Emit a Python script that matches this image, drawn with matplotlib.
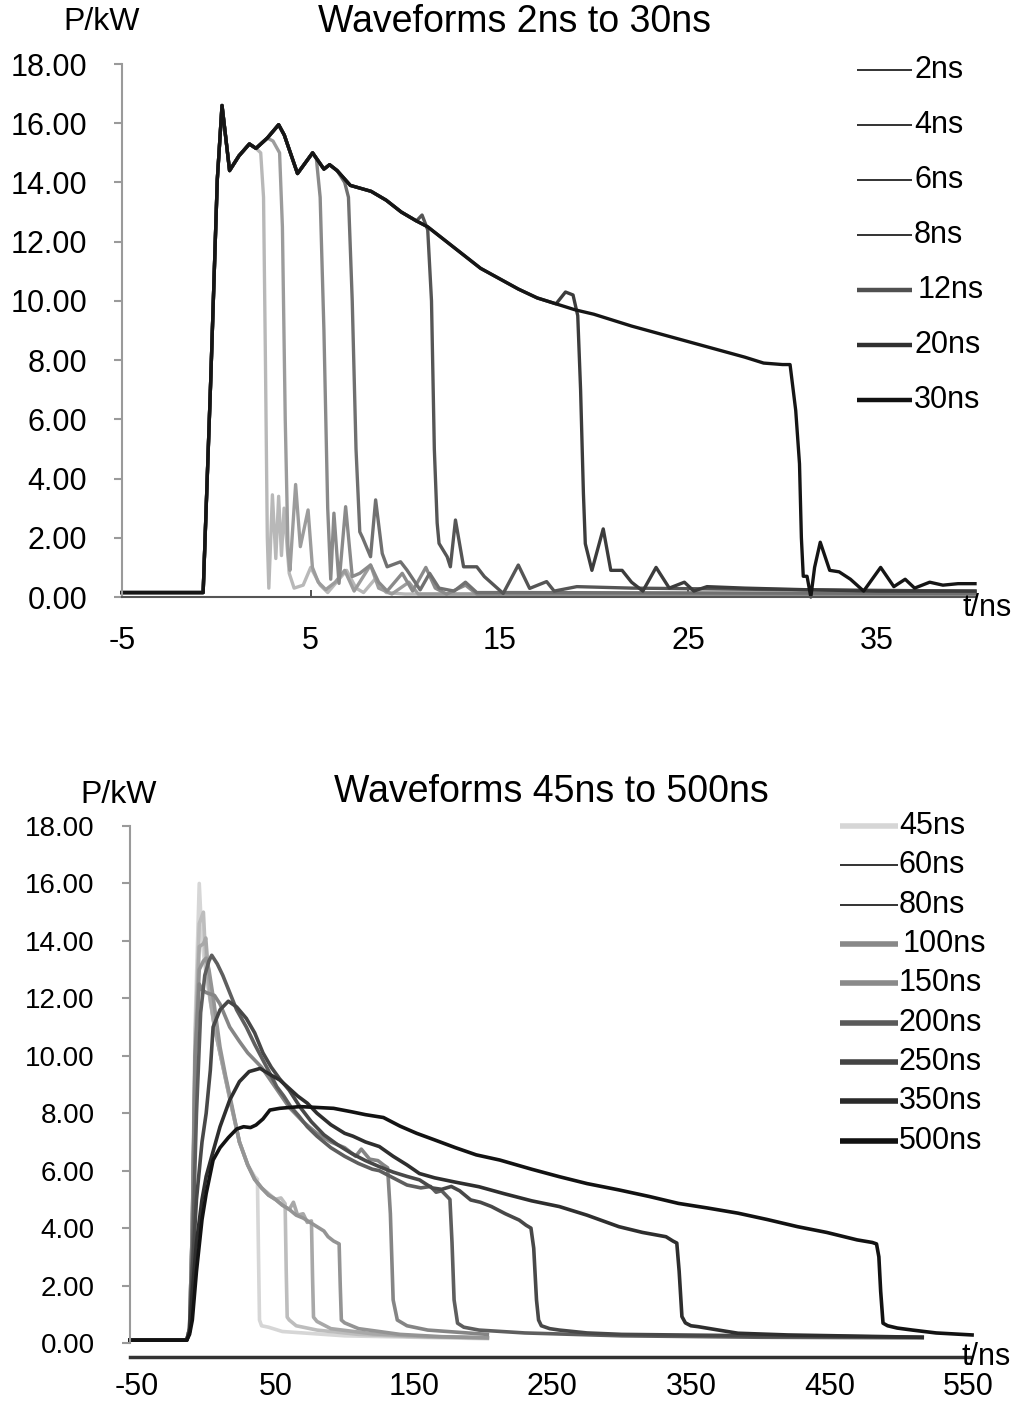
import matplotlib
matplotlib.use("Agg")
import matplotlib.pyplot as plt
from matplotlib.lines import Line2D

plt.rcParams["font.family"] = ["Liberation Sans", "DejaVu Sans"]

W, H = 1019, 1402  # output size in pixels

# ---------------- top panel: 2ns .. 30ns ----------------
top_labels = ["2ns", "4ns", "6ns", "8ns", "12ns", "20ns", "30ns"]
top_colors = ["#b8b8b8", "#9c9c9c", "#8a8a8a", "#707070", "#555555", "#3c3c3c", "#151515"]

# shared plateau
plat_t = [-5.0, -2.0, -0.7, -0.3, 0.05, 0.3, 0.7, 1.2, 1.75, 2.1, 2.7, 3.3, 3.6,
          4.3, 5.1, 5.7, 6.0, 6.4, 7.1, 8.2, 9.0, 9.8, 10.6, 11.2, 12.0, 13.0,
          14.0, 15.0, 16.0, 17.0, 18.0, 19.0, 20.0, 22.0, 24.0, 26.0, 28.0,
          29.0, 30.0, 30.4]
plat_p = [0.15, 0.15, 0.15, 7.3, 14.1, 16.6, 14.4, 14.9, 15.3, 15.15, 15.5, 15.95,
          15.6, 14.3, 15.0, 14.45, 14.6, 14.4, 13.9, 13.7, 13.4, 13.0, 12.7, 12.5,
          12.1, 11.6, 11.1, 10.75, 10.4, 10.1, 9.9, 9.7, 9.55, 9.15, 8.8, 8.45,
          8.1, 7.9, 7.85, 7.85]

# last plateau time each pulse follows
top_cut = [2.1, 2.7, 5.1, 6.4, 10.6, 18.0, 30.4]

# fall and ringing after each pulse leaves the plateau
fall2_t = [2.35, 2.5, 2.6, 2.7, 2.78, 2.97, 3.15, 3.3, 3.45, 3.59, 3.86, 4.12, 4.6,
           5.0, 5.5, 5.9, 6.5, 6.9, 7.4, 7.8, 8.4, 9.0, 10.0, 15.0, 25.0, 40.2]
fall2_p = [15.0, 13.5, 8.0, 2.0, 0.3, 3.45, 1.3, 3.4, 1.4, 3.0, 0.8, 0.3, 0.4,
           1.0, 0.4, 0.15, 0.6, 0.9, 0.3, 0.15, 0.6, 0.15, 0.1, 0.1, 0.08, 0.08]
fall4_t = [3.0, 3.35, 3.5, 3.65, 3.8, 3.9, 4.2, 4.45, 4.86, 5.09, 5.4, 5.8, 6.3,
           6.8, 7.3, 8.17, 8.6, 9.3, 10.2, 10.7, 12.0, 20.0, 40.2]
fall4_p = [15.4, 15.0, 12.5, 6.0, 1.5, 0.9, 3.8, 1.7, 2.94, 1.0, 0.5, 0.25, 0.5,
           0.9, 0.2, 1.08, 0.3, 0.1, 0.5, 0.1, 0.1, 0.1, 0.08]
fall6_t = [5.3, 5.5, 5.7, 5.9, 6.06, 6.23, 6.5, 6.85, 7.2, 7.6, 8.17, 8.6, 9.05,
           9.85, 10.4, 11.1, 11.6, 12.2, 13.2, 13.8, 20.0, 40.2]
fall6_p = [14.8, 13.5, 9.0, 3.0, 0.6, 2.83, 0.46, 3.05, 0.69, 0.8, 1.08, 0.5, 0.2,
           0.8, 0.2, 1.0, 0.3, 0.1, 0.4, 0.1, 0.1, 0.1]
fall8_t = [6.8, 7.0, 7.2, 7.4, 7.6, 7.75, 8.17, 8.44, 8.79, 9.05, 9.76, 10.1, 10.8,
           11.3, 11.8, 12.6, 13.2, 13.8, 16.0, 40.2]
fall8_p = [14.0, 13.5, 10.0, 5.0, 2.2, 2.0, 1.36, 3.28, 1.47, 1.02, 1.19, 0.91, 0.24,
           0.8, 0.3, 0.2, 0.5, 0.15, 0.15, 0.12]
fall12_t = [10.9, 11.2, 11.4, 11.55, 11.7, 11.8, 12.23, 12.4, 12.67, 13.1, 13.8, 14.2,
            15.2, 16.0, 16.6, 17.5, 17.9, 19.1, 22.0, 30.0, 40.2]
fall12_p = [12.9, 12.4, 10.0, 5.0, 2.5, 1.81, 1.36, 1.02, 2.6, 1.02, 1.02, 0.69,
            0.12, 1.08, 0.29, 0.52, 0.2, 0.35, 0.3, 0.25, 0.2]
fall20_t = [18.5, 18.9, 19.15, 19.3, 19.45, 19.55, 19.9, 20.5, 20.9, 21.5, 22.0,
            22.6, 23.3, 24.0, 24.8, 25.3, 26.0, 28.0, 31.0, 35.0, 40.2]
fall20_p = [10.3, 10.2, 9.5, 7.0, 3.5, 1.8, 0.9, 2.3, 0.9, 0.9, 0.5, 0.2, 1.0, 0.3,
            0.5, 0.2, 0.35, 0.3, 0.25, 0.2, 0.2]
fall30_t = [30.7, 30.9, 31.0, 31.1, 31.3, 31.5, 31.7, 32.0, 32.5, 33.0, 33.6, 34.3,
            35.2, 35.9, 36.5, 37.0, 37.8, 38.5, 39.3, 40.2]
fall30_p = [6.3, 4.5, 2.0, 0.7, 0.7, 0.0, 1.0, 1.85, 0.9, 0.85, 0.6, 0.2, 1.0, 0.35,
            0.6, 0.3, 0.5, 0.4, 0.45, 0.45]

top_falls = [(fall2_t, fall2_p), (fall4_t, fall4_p), (fall6_t, fall6_p),
             (fall8_t, fall8_p), (fall12_t, fall12_p), (fall20_t, fall20_p),
             (fall30_t, fall30_p)]

top_xticks = [-5, 5, 15, 25, 35]
top_xlabels = ["-5", "5", "15", "25", "35"]
yticks = [0, 2, 4, 6, 8, 10, 12, 14, 16, 18]
ylabels = ["%.2f" % v for v in yticks]

# ---------------- bottom panel: 45ns .. 500ns ----------------
bot_labels = ["45ns", "60ns", "80ns", "100ns", "150ns", "200ns", "250ns", "350ns", "500ns"]
bot_colors = ["#d6d6d6", "#bdbdbd", "#a8a8a8", "#949494", "#858585",
              "#5e5e5e", "#484848", "#2e2e2e", "#121212"]

p45_t = [-55, -14, -12, -10, -8, -5, -3, 0, 3, 6, 10, 14, 18, 24, 30, 35, 37, 37.8,
         38.5, 40, 45, 55, 70, 100, 150, 203]
p45_p = [0.1, 0.1, 0.5, 4.0, 11.0, 16.0, 14.0, 12.8, 11.9, 11.0, 10.1, 9.2, 8.3, 7.0,
         6.2, 5.8, 5.7, 3.0, 0.8, 0.6, 0.55, 0.4, 0.35, 0.25, 0.2, 0.15]
p60_t = [-55, -14, -12, -10, -8, -5, -2, 0, 3, 6, 10, 14, 18, 24, 30, 35, 40, 45, 50,
         54, 57, 57.8, 58.5, 60, 65, 80, 110, 150, 203]
p60_p = [0.1, 0.1, 0.5, 4.0, 10.5, 14.6, 15.0, 13.0, 11.9, 11.0, 10.1, 9.2, 8.3, 7.0,
         6.2, 5.7, 5.4, 5.2, 5.0, 5.05, 4.85, 2.5, 0.9, 0.8, 0.6, 0.45, 0.3, 0.22, 0.18]
p80_t = [-55, -14, -12, -10, -8, -5, -2, -0.3, 3, 6, 10, 14, 18, 24, 30, 35, 40, 45,
         50, 55, 60, 63, 66, 70, 73, 76, 76.8, 77.5, 80, 90, 120, 160, 203]
p80_p = [0.1, 0.1, 0.5, 4.0, 10.0, 13.8, 13.9, 14.1, 12.0, 11.0, 10.1, 9.2, 8.3, 7.0,
         6.2, 5.7, 5.4, 5.15, 5.0, 4.8, 4.65, 4.9, 4.45, 4.5, 4.2, 4.25, 2.3, 0.9,
         0.75, 0.5, 0.32, 0.22, 0.18]
p100_t = [-55, -14, -12, -10, -8, -5, -2, 0, 2, 5, 10, 14, 18, 24, 30, 35, 40, 45,
          50, 55, 60, 65, 70, 75, 80, 85, 88, 92, 96, 96.8, 97.6, 100, 110, 140, 170, 203]
p100_p = [0.1, 0.1, 0.5, 4.0, 9.5, 13.0, 13.3, 13.4, 13.0, 12.06, 10.3, 9.3, 8.4,
          7.0, 6.2, 5.7, 5.4, 5.15, 5.0, 4.8, 4.65, 4.45, 4.35, 4.2, 4.05, 3.9, 3.7,
          3.55, 3.45, 2.0, 0.8, 0.7, 0.5, 0.3, 0.22, 0.18]
p150_t = [-55, -14, -12, -10, -8, -5, -3, 0, 3, 6, 10, 17, 24, 30, 40, 50, 60, 70,
          80, 90, 100, 108, 112, 118, 124, 128, 131, 133, 135, 138, 145, 160, 203]
p150_p = [0.1, 0.1, 0.5, 4.0, 10.0, 12.5, 12.3, 12.2, 12.15, 12.1, 11.8, 11.0, 10.5,
          10.1, 9.6, 8.9, 8.2, 7.7, 7.3, 7.0, 6.8, 6.5, 6.75, 6.4, 6.35, 6.2, 6.1,
          4.5, 1.5, 0.8, 0.6, 0.45, 0.3]
p200_t = [-55, -14, -12, -10, -7, -4, -1, 2, 4, 8, 12, 17, 22, 29, 35, 41, 47, 51,
          56, 61, 67, 73, 80, 90, 100, 110, 120, 125, 135, 145, 155, 162, 166, 170,
          174, 176, 177.5, 179, 181.5, 186, 197, 230, 300, 400, 517]
p200_p = [0.1, 0.1, 0.5, 3.0, 8.0, 11.5, 12.8, 13.3, 13.5, 13.2, 12.8, 12.2, 11.6,
          11.0, 10.4, 9.85, 9.3, 8.92, 8.6, 8.23, 7.9, 7.53, 7.2, 6.8, 6.5, 6.25,
          6.05, 6.0, 5.75, 5.5, 5.4, 5.45, 5.25, 5.3, 5.1, 5.0, 3.5, 1.5, 0.69, 0.55,
          0.45, 0.35, 0.25, 0.2, 0.18]
p250_t = [-55, -14, -12, -10, -7, -3, 0, 3, 5, 10, 16, 22, 29, 35, 41, 47, 53, 60,
          68, 76, 85, 95, 105, 115, 125, 135, 145, 154, 163, 170, 177, 183, 191, 198,
          206, 216, 226, 231, 234.5, 236.5, 238.5, 240, 242, 248, 255, 275, 300, 400, 517]
p250_p = [0.1, 0.1, 0.4, 2.5, 5.0, 7.0, 8.0, 9.5, 11.0, 11.6, 11.9, 11.7, 11.3, 10.8,
          10.1, 9.6, 9.2, 8.8, 8.2, 7.7, 7.25, 6.9, 6.6, 6.35, 6.14, 5.95, 5.8, 5.68,
          5.4, 5.35, 5.45, 5.3, 4.98, 4.9, 4.75, 4.5, 4.28, 4.1, 4.0, 3.3, 1.5, 0.8,
          0.6, 0.5, 0.45, 0.35, 0.3, 0.25, 0.2]
p350_t = [-55, -14, -12, -10, -7, -3, 0, 4, 10, 17, 24, 31, 39, 46, 53, 58, 66, 73,
          80, 90, 100, 106, 115, 125, 135, 145, 154, 165, 180, 197, 215, 235, 255,
          275, 298, 315, 332, 337, 339.8, 341.5, 343.5, 346, 350, 355, 370, 384, 420, 517]
p350_p = [0.1, 0.1, 0.4, 1.8, 3.5, 5.0, 5.8, 6.5, 7.53, 8.46, 9.1, 9.45, 9.56, 9.35,
          9.16, 8.95, 8.6, 8.35, 8.0, 7.6, 7.3, 7.2, 7.0, 6.84, 6.5, 6.2, 5.9, 5.75,
          5.6, 5.44, 5.2, 4.95, 4.75, 4.45, 4.05, 3.85, 3.7, 3.55, 3.48, 2.5, 0.92,
          0.7, 0.6, 0.57, 0.45, 0.34, 0.28, 0.2]
p500_t = [-55, -14, -12, -10, -7, -3, 0, 5, 10, 16, 22, 27, 32, 36, 41, 46, 53, 60,
          68, 80, 92, 105, 115, 128, 140, 152, 165, 180, 195, 212, 235, 255, 275, 298,
          320, 341, 362, 384, 405, 427, 448, 470, 481, 484, 485.7, 487, 488.7, 492,
          499, 510, 527, 553]
p500_p = [0.1, 0.1, 0.3, 0.8, 2.5, 4.3, 5.2, 6.37, 6.8, 7.15, 7.45, 7.53, 7.5, 7.59,
          7.8, 8.11, 8.17, 8.2, 8.23, 8.2, 8.17, 8.05, 7.95, 7.85, 7.55, 7.3, 7.07,
          6.8, 6.55, 6.37, 6.05, 5.79, 5.55, 5.33, 5.1, 4.86, 4.7, 4.52, 4.3, 4.05,
          3.85, 3.59, 3.5, 3.45, 3.0, 1.8, 0.69, 0.6, 0.52, 0.45, 0.35, 0.28]

bot_series = [(p45_t, p45_p), (p60_t, p60_p), (p80_t, p80_p), (p100_t, p100_p),
              (p150_t, p150_p), (p200_t, p200_p), (p250_t, p250_p),
              (p350_t, p350_p), (p500_t, p500_p)]

bot_xticks = [-50, 50, 150, 250, 350, 450, 550]
bot_xlabels = ["-50", "50", "150", "250", "350", "450", "550"]

# legend line styles (as drawn in the original legends)
top_leg_lw = [1.2, 1.2, 1.2, 1.2, 3.2, 3.2, 3.2]
top_leg_col = ["#111111"] * 4 + ["#505050", "#303030", "#111111"]
bot_leg_lw = [4.0, 1.2, 1.2, 4.0, 4.0, 4.0, 4.0, 4.0, 4.0]
bot_leg_col = ["#d6d6d6", "#111111", "#111111", "#888888", "#8a8a8a",
               "#5a5a5a", "#444444", "#2a2a2a", "#111111"]


def fx(px):
    return px / W


def fy(py):
    return 1 - py / H


def style_axes(ax, ylab_size, ypad):
    for s in ["top", "right"]:
        ax.spines[s].set_visible(False)
    ax.spines["left"].set_color("#9a9a9a")
    ax.spines["left"].set_linewidth(1.5)
    ax.set_ylim(0, 18)
    ax.set_yticks(yticks)
    ax.set_yticklabels(ylabels)
    ax.tick_params(axis="y", direction="out", length=6, width=1.5, color="#9a9a9a",
                   labelsize=ylab_size, pad=ypad)


def draw_legend(fig, labels, lws, cols, ys, x0, x1, xt, size):
    for lab, lw, c, y in zip(labels, lws, cols, ys):
        fig.add_artist(Line2D([fx(x0), fx(x1)], [fy(y), fy(y)], lw=lw, color=c,
                              solid_capstyle="butt"))
        shift = 4 if lab in ("12ns", "100ns") else 0
        fig.text(fx(xt + shift), fy(y), lab, fontsize=size, ha="left", va="center")


fig = plt.figure(figsize=(W / 100, H / 100), dpi=100)

# ---- top chart ----
ax1 = fig.add_axes([fx(122), fy(597), fx(975) - fx(122), fy(64) - fy(597)])
style_axes(ax1, 22, 19)
ax1.set_xlim(-5, 40.2)
ax1.spines["bottom"].set_color("#555555")
ax1.spines["bottom"].set_linewidth(1.5)
ax1.set_xticks(top_xticks)
ax1.set_xticklabels(top_xlabels)
ax1.tick_params(axis="x", direction="in", length=5, width=1.2, color="#333333",
                labelsize=22, pad=21)
for cut, (ft, fp), col in zip(top_cut, top_falls, top_colors):
    t = [x for x in plat_t if x <= cut] + ft
    p = [v for x, v in zip(plat_t, plat_p) if x <= cut] + fp
    ax1.plot(t, p, color=col, lw=2.4, solid_joinstyle="round", clip_on=False)

fig.text(fx(515), fy(22), "Waveforms 2ns to 30ns", fontsize=27, ha="center", va="center")
fig.text(fx(102), fy(22), "P/kW", fontsize=23, ha="center", va="center")
fig.text(fx(987), fy(608), "t/ns", fontsize=22, ha="center", va="center")
draw_legend(fig, top_labels, top_leg_lw, top_leg_col,
            [70, 125, 180, 235, 290, 345, 400], 857, 912, 914, 22)

# ---- bottom chart ----
ax2 = fig.add_axes([fx(130), fy(1343), fx(970) - fx(130), fy(826) - fy(1343)])
style_axes(ax2, 20, 19.5)
ax2.set_xlim(-55, 551.5)
ax2.spines["bottom"].set_position(("outward", 10))
ax2.spines["bottom"].set_color("#333333")
ax2.spines["bottom"].set_linewidth(2.5)
ax2.set_xticks(bot_xticks)
ax2.set_xticklabels(bot_xlabels)
ax2.tick_params(axis="x", length=0, labelsize=22, pad=11)
for (t, p), col in zip(bot_series, bot_colors):
    ax2.plot(t, p, color=col, lw=2.6, solid_joinstyle="round", clip_on=False)

fig.text(fx(551), fy(792), "Waveforms 45ns to 500ns", fontsize=27, ha="center", va="center")
fig.text(fx(119), fy(795), "P/kW", fontsize=23, ha="center", va="center")
fig.text(fx(962), fy(1357), "t/ns", fontsize=22, ha="left", va="center")
draw_legend(fig, bot_labels, bot_leg_lw, bot_leg_col,
            [826, 865, 905, 944, 983, 1023, 1062, 1101, 1141], 840, 898, 899, 22)

fig.savefig("out.png", dpi=100)
